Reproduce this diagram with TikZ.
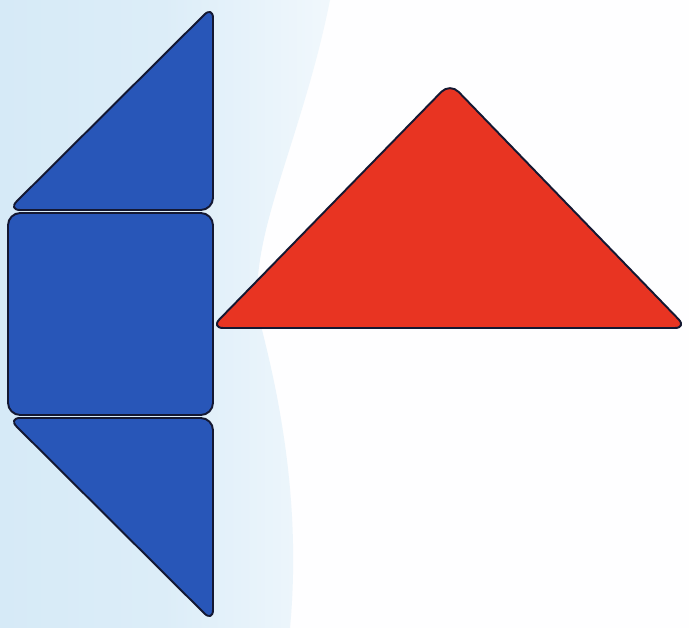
\documentclass[tikz,border=0pt]{standalone}
\usepackage{tikz}
\usetikzlibrary{calc}
\definecolor{tanblue}{RGB}{40, 86, 184}
\definecolor{tanred}{RGB}{232, 52, 34}
\definecolor{edge}{RGB}{20, 24, 50}
\definecolor{paleblue}{RGB}{214, 234, 247}
\tikzset{
  piece/.style={draw=edge, line width=1.1pt, rounded corners=7pt, line join=round},
  bluepiece/.style={piece, fill=tanblue},
  redpiece/.style={piece, fill=tanred}
}

\begin{document}
\begin{tikzpicture}[x={(0.02cm,0)}, y={(0,-0.02cm)}]
    % Background
    \fill[white!97!paleblue] (0,0) rectangle (689,628);
    \shade[left color=paleblue, right color=paleblue!35!white, middle color=paleblue!85!white]
        (0,0) -- (330,0) .. controls (300,150) and (240,250) .. (262,330)
        .. controls (285,420) and (300,520) .. (290,628) -- (0,628) -- cycle;
    \useasboundingbox (0,0) rectangle (689,628);

    % Vertices
    \coordinate (TL) at (8,210);
    \coordinate (TR) at (213,210);
    \coordinate (TT) at (213,6);
    \coordinate (SA) at (8,213);
    \coordinate (SB) at (213,213);
    \coordinate (SC) at (213,415);
    \coordinate (SD) at (8,415);
    \coordinate (BL) at (8,418);
    \coordinate (BR) at (213,418);
    \coordinate (BB) at (213,622);
    \coordinate (RL) at (211,328);
    \coordinate (RR) at (687,328);
    \coordinate (RT) at (450,83);

    % Blue pieces
    \draw[bluepiece] (TL) -- (TT) -- (TR) -- cycle;
    \draw[bluepiece] (SA) -- (SB) -- (SC) -- (SD) -- cycle;
    \draw[bluepiece] (BL) -- (BR) -- (BB) -- cycle;

    % Red piece
    \draw[redpiece] (RL) -- (RT) -- (RR) -- cycle;
\end{tikzpicture}
\end{document}
